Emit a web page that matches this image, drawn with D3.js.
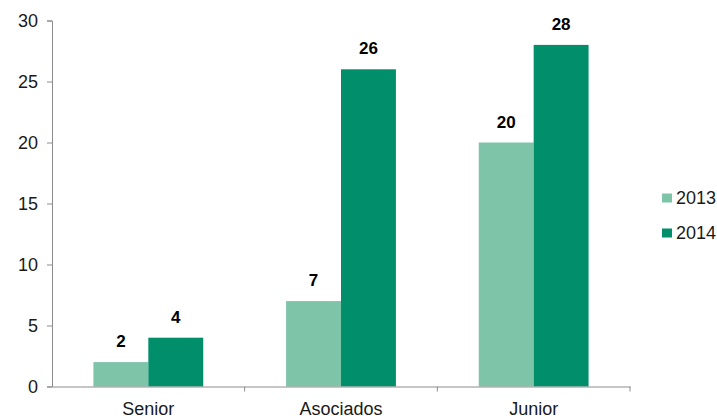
<!DOCTYPE html>
<html><head><meta charset="utf-8">
<script src="https://cdn.jsdelivr.net/npm/d3@7"></script>
<style>body{margin:0;background:#fff}svg{display:block;font-family:Arial,"Liberation Sans",sans-serif}</style>
</head><body>
<svg id="c" width="717" height="420"></svg>
<script>
const categories = ["Senior", "Asociados", "Junior"];
const seriesNames = ["2013", "2014"];
const values2013 = [2, 7, 20];
const values2014 = [4, 26, 28];
const yTicks = [0, 5, 10, 15, 20, 25, 30];
const colors = ["#7dc4a9", "#008f6a"];
const FONT = "Arial, 'Liberation Sans', sans-serif";

const svg = d3.select("#c");
const x0 = d3.scaleBand().domain(categories).range([52, 630]).paddingInner(0.43).paddingOuter(0.215);
const x1 = d3.scaleBand().domain(seriesNames).range([0, x0.bandwidth()]);
const y = d3.scaleLinear().domain([0, 30]).range([386.5, 20.5]);

const data = categories.map((c, i) => ({cat: c, vals: [values2013[i], values2014[i]]}));

// bars
const g = svg.append("g");
data.forEach(d => {
  d.vals.forEach((v, j) => {
    const xx = x0(d.cat) + x1(seriesNames[j]);
    g.append("rect").attr("x", xx).attr("y", y(v)).attr("width", x1.bandwidth()).attr("height", y(0) - y(v))
      .attr("fill", colors[j]);
    g.append("text").attr("x", xx + x1.bandwidth() / 2).attr("y", y(v) - 15)
      .attr("text-anchor", "middle").attr("font-size", 17).attr("font-weight", "bold")
      .attr("font-family", FONT).attr("fill", "#000").text(v);
  });
});

// y axis
const ya = svg.append("g").attr("transform", "translate(52,0)")
  .call(d3.axisLeft(y).tickValues(yTicks).tickSize(5).tickPadding(9));
ya.select(".domain").attr("stroke", "#8c8c8c");
ya.selectAll(".tick line").attr("stroke", "#8c8c8c");
ya.selectAll("text").attr("font-size", 18).attr("fill", "#1a1a1a").attr("font-family", FONT);

// x axis
const xa = svg.append("g").attr("transform", "translate(0,386.5)")
  .call(d3.axisBottom(x0).tickSize(0).tickPadding(16));
xa.select(".domain").attr("stroke", "#8c8c8c");
xa.selectAll("text").attr("font-size", 18).attr("fill", "#1a1a1a").attr("font-family", FONT);
const sep = categories.map(c => x0(c) - x0.step() * x0.paddingOuter() + x0.step());
svg.append("g").selectAll("line").data(sep).join("line")
  .attr("x1", d => d).attr("x2", d => d).attr("y1", 386.5).attr("y2", 391.5).attr("stroke", "#8c8c8c");

// legend
const lg = svg.append("g");
seriesNames.forEach((s, i) => {
  const yy = 198 + i * 35;
  lg.append("rect").attr("x", 662).attr("y", yy - 4.5).attr("width", 10).attr("height", 9).attr("fill", colors[i]);
  lg.append("text").attr("x", 676).attr("y", yy + 6).attr("font-size", 18).attr("font-family", FONT)
    .attr("fill", "#1a1a1a").text(s);
});
</script>
</body></html>
